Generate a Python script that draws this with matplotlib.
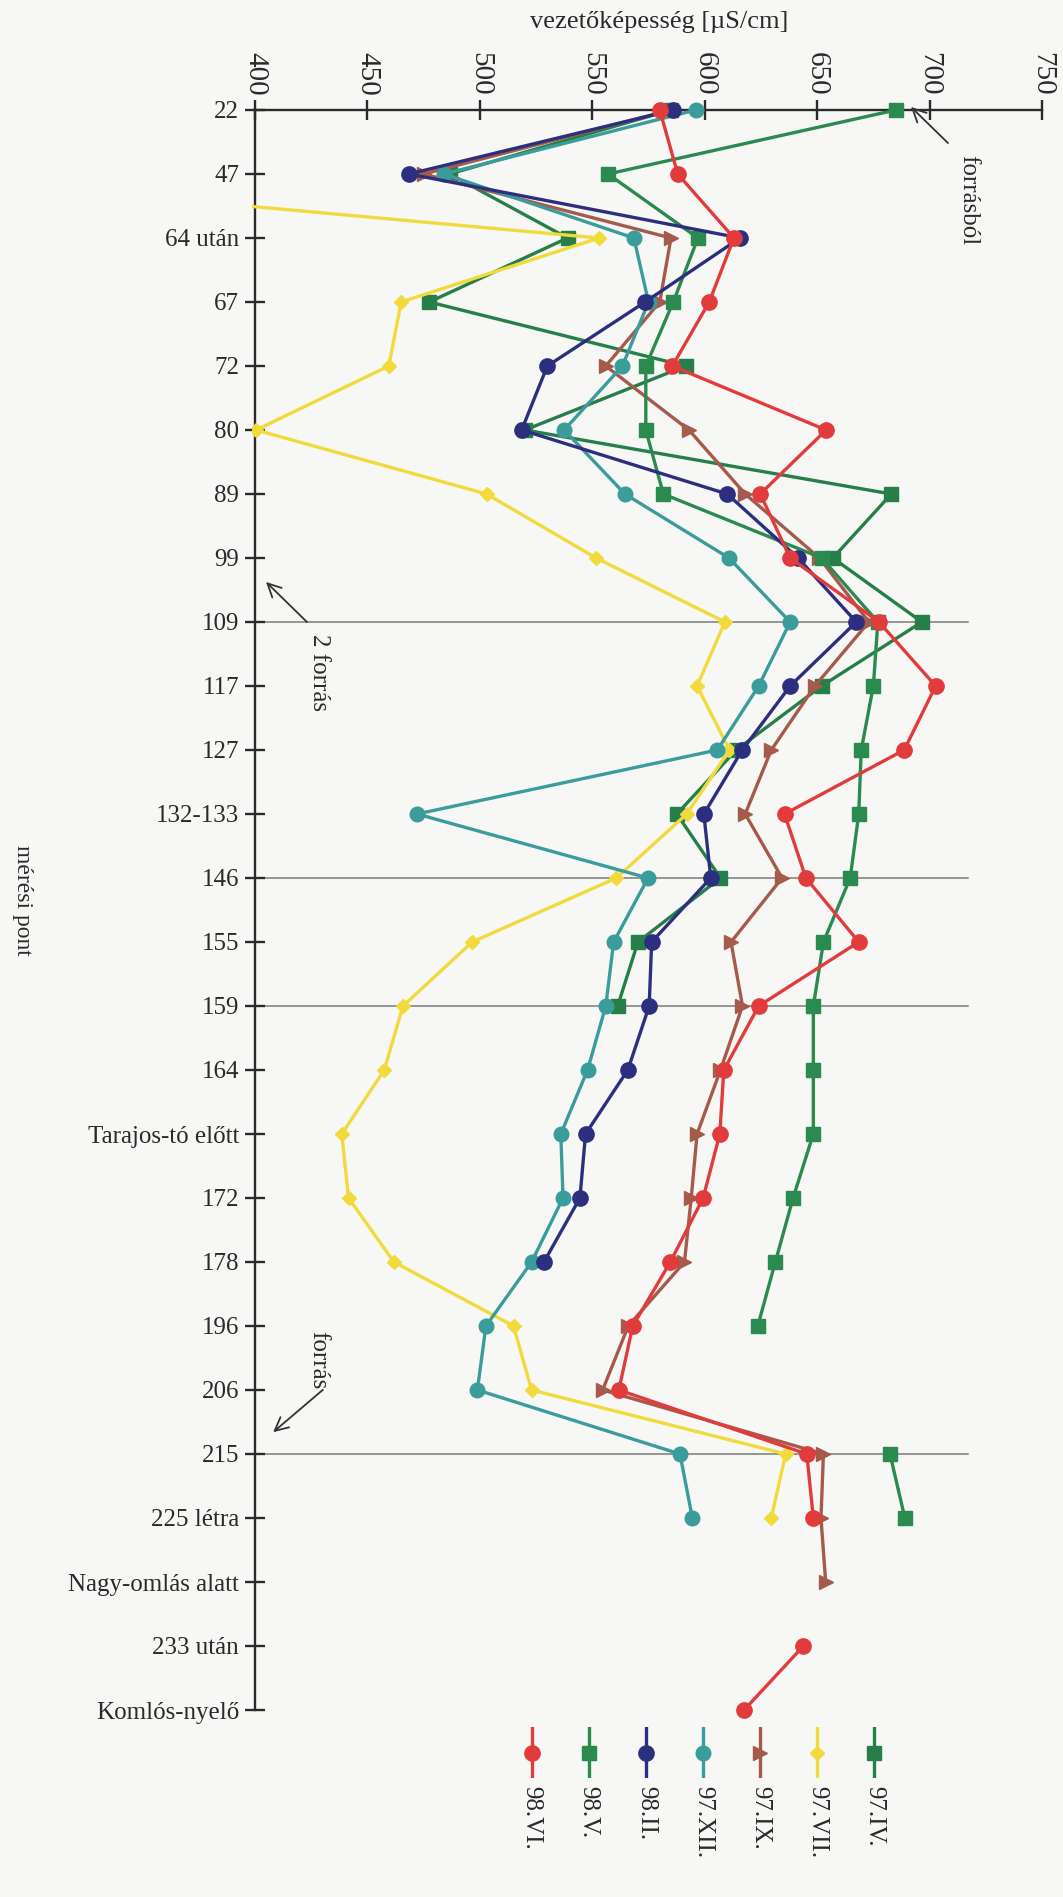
import numpy as np
import matplotlib
matplotlib.use("Agg")
import matplotlib.pyplot as plt
from matplotlib.patches import Rectangle

plt.rcParams['font.family'] = ['Liberation Serif', 'DejaVu Serif']

nan = np.nan

# measuring points along the cave stream, top to bottom
points = ["22", "47", "64 után", "67", "72", "80", "89", "99", "109", "117", "127",
          "132-133", "146", "155", "159", "164", "Tarajos-tó előtt", "172", "178",
          "196", "206", "215", "225 létra", "Nagy-omlás alatt", "233 után",
          "Komlós-nyelő"]

# conductivity, µS/cm, one list per campaign
c_98VI = [580, 588, 613, 602, 585.6, 654, 624.7, 638, 677.5, 702.7, 688.7,
          635.5, 645, 668.5, 624, 608.5, 606.7, 599.3, 584.7, 568, 561.8,
          645.4, 648.3, nan, 643.9, 617.5]
c_98V = [685, 557, 597, 586, 573.8, 573.8, 581.6, 652, 677, 675, 669.6,
         668.5, 664.7, 652.8, 648.3, 648.3, 648.3, 639.3, 631.4, 623.6, nan,
         682.4, 689, nan, nan, nan]
c_98II = [586, 468.5, 615.7, 573.5, 530, 518.6, 610, 641.5, 667.4, 638, 616.7,
          599.6, 602.7, 576.4, 575.3, 565.8, 547, 544.5, 528.5, nan, nan,
          nan, nan, nan, nan, nan]
c_97XII = [596, 484, 568.5, 575, 563.4, 537.5, 564.5, 610.8, 638, 624, 605.6,
           472, 574.8, 559.5, 556, 547.9, 536, 537, 523, 502.7, 498.9,
           589, 594.5, nan, nan, nan]
c_97IX = [585, 475, 585, 580, 556, 593, 618, 651, 673, 649, 629.6,
          618, 634.4, 611.7, 616.8, 607, 596.6, 594, 591, 566, 554.6,
          652.8, 651.7, 653.8, nan, nan]
c_97VII = [nan, 240, 553, 465, 459.5, 400.5, 503, 551.7, 609, 596.6, 611,
           592, 560.7, 496.6, 465.8, 457.5, 438.6, 441.6, 461.8, 515, 523,
           636, 629.6, nan, nan, nan]
c_97IV = [585, 486.5, 539, 477.5, 591.5, 520, 683, 657, 696.6, 652, 614,
          587.6, 607, 570.3, 561.3, nan, nan, nan, nan, nan, nan,
          nan, nan, nan, nan, nan]

labels = ["98.VI.", "98.V.", "98.II.", "97.XII.", "97.IX.", "97.VII.", "97.IV."]
series = [c_98VI, c_98V, c_98II, c_97XII, c_97IX, c_97VII, c_97IV]
colors = ["#e23b3b", "#2b8a50", "#2c2f7e", "#3b9c9c", "#a55a4c", "#f1da3c", "#267f48"]
markers = ["o", "s", "o", "o", ">", "D", "s"]
msizes = [11, 10.5, 11, 10.5, 10.5, 7, 10.5]

# horizontal reference lines at the marked points
ref_points = ["109", "146", "159", "215"]

xticks = [400, 450, 500, 550, 600, 650, 700, 750]

W, H = 1063, 1897
fig = plt.figure(figsize=(W / 100, H / 100), dpi=100, facecolor="#f7f7f5")


def fx(px):
    return px / W


def fy(py):
    return 1 - py / H


ax = fig.add_axes([fx(255), fy(1710), (1042 - 255) / W, (1710 - 110) / H])
ax.set_facecolor("none")
ypos = np.arange(len(points))

for r in ref_points:
    ax.plot([400, 717], [points.index(r)] * 2, color="#7a7a7a", lw=1.1, zorder=1)

clip = Rectangle((398.8, -0.6), 370, len(points) + 0.2, transform=ax.transData)
order = [6, 5, 4, 3, 1, 2, 0]
for i in order:
    ln, = ax.plot(np.array(series[i], dtype=float), ypos, color=colors[i],
                  marker=markers[i], ms=msizes[i], lw=2.4, mec=colors[i],
                  zorder=3 + order.index(i) * 0.1)
    ln.set_clip_path(clip)

ax.set_xlim(400, 750)
ax.set_ylim(len(points) - 1, 0)

for s in ["right", "bottom"]:
    ax.spines[s].set_visible(False)
for s in ["top", "left"]:
    ax.spines[s].set_linewidth(1.7)
    ax.spines[s].set_color("#2a2a2a")

ax.xaxis.tick_top()
ax.set_xticks(xticks)
ax.set_xticklabels([str(v) for v in xticks], rotation=-90, fontsize=21,
                   color="#2a2a2a")
ax.tick_params(axis="x", direction="inout", length=15, width=1.7,
               color="#2a2a2a", pad=3)
ax.set_yticks(ypos)
ax.set_yticklabels(points, fontsize=18, color="#2a2a2a")
ax.tick_params(axis="y", direction="inout", length=15, width=1.7,
               color="#2a2a2a", pad=4)

fig.text(fx(659), fy(22), "vezetőképesség [µS/cm]", ha="center", va="center",
         fontsize=19, color="#2a2a2a")
fig.text(fx(22), fy(900), "mérési pont", ha="center", va="center",
         rotation=-90, fontsize=17, color="#2a2a2a")

# spring annotations
arrow = dict(arrowstyle="->", color="#333333", lw=1.3, mutation_scale=24)
fig.text(fx(968), fy(200), "forrásból", ha="center", va="center",
         rotation=-90, fontsize=18, color="#2a2a2a")
ax.annotate("", xy=(fx(909), fy(105)), xytext=(fx(950), fy(145)),
            xycoords="figure fraction", textcoords="figure fraction",
            arrowprops=arrow)
fig.text(fx(319), fy(672), "2 forrás", ha="center", va="center",
         rotation=-90, fontsize=18, color="#2a2a2a")
ax.annotate("", xy=(fx(264), fy(580)), xytext=(fx(309), fy(624)),
            xycoords="figure fraction", textcoords="figure fraction",
            arrowprops=arrow)
fig.text(fx(318), fy(1360), "forrás", ha="center", va="center",
         rotation=-90, fontsize=18, color="#2a2a2a")
ax.annotate("", xy=(fx(271), fy(1434)), xytext=(fx(325), fy(1388)),
            xycoords="figure fraction", textcoords="figure fraction",
            arrowprops=arrow)

# legend: vertical sample lines with markers, labels running downwards
lax = fig.add_axes([fx(503), fy(1778), 400 / W, 51 / H])
lax.set_xlim(-0.5, len(labels) - 0.5)
lax.set_ylim(0, 1)
lax.axis("off")
for k in range(len(labels)):
    lax.plot([k, k], [0, 1], color=colors[k], lw=2.4)
    lax.plot([k], [0.5], color=colors[k], marker=markers[k], ms=msizes[k],
             mec=colors[k])
    xc = 503 + (k + 0.5) * 400 / len(labels)
    fig.text(fx(xc), fy(1786), labels[k], ha="center", va="top",
             rotation=-90, fontsize=18, color="#2a2a2a")

fig.savefig("out.png", dpi=100, facecolor=fig.get_facecolor())
